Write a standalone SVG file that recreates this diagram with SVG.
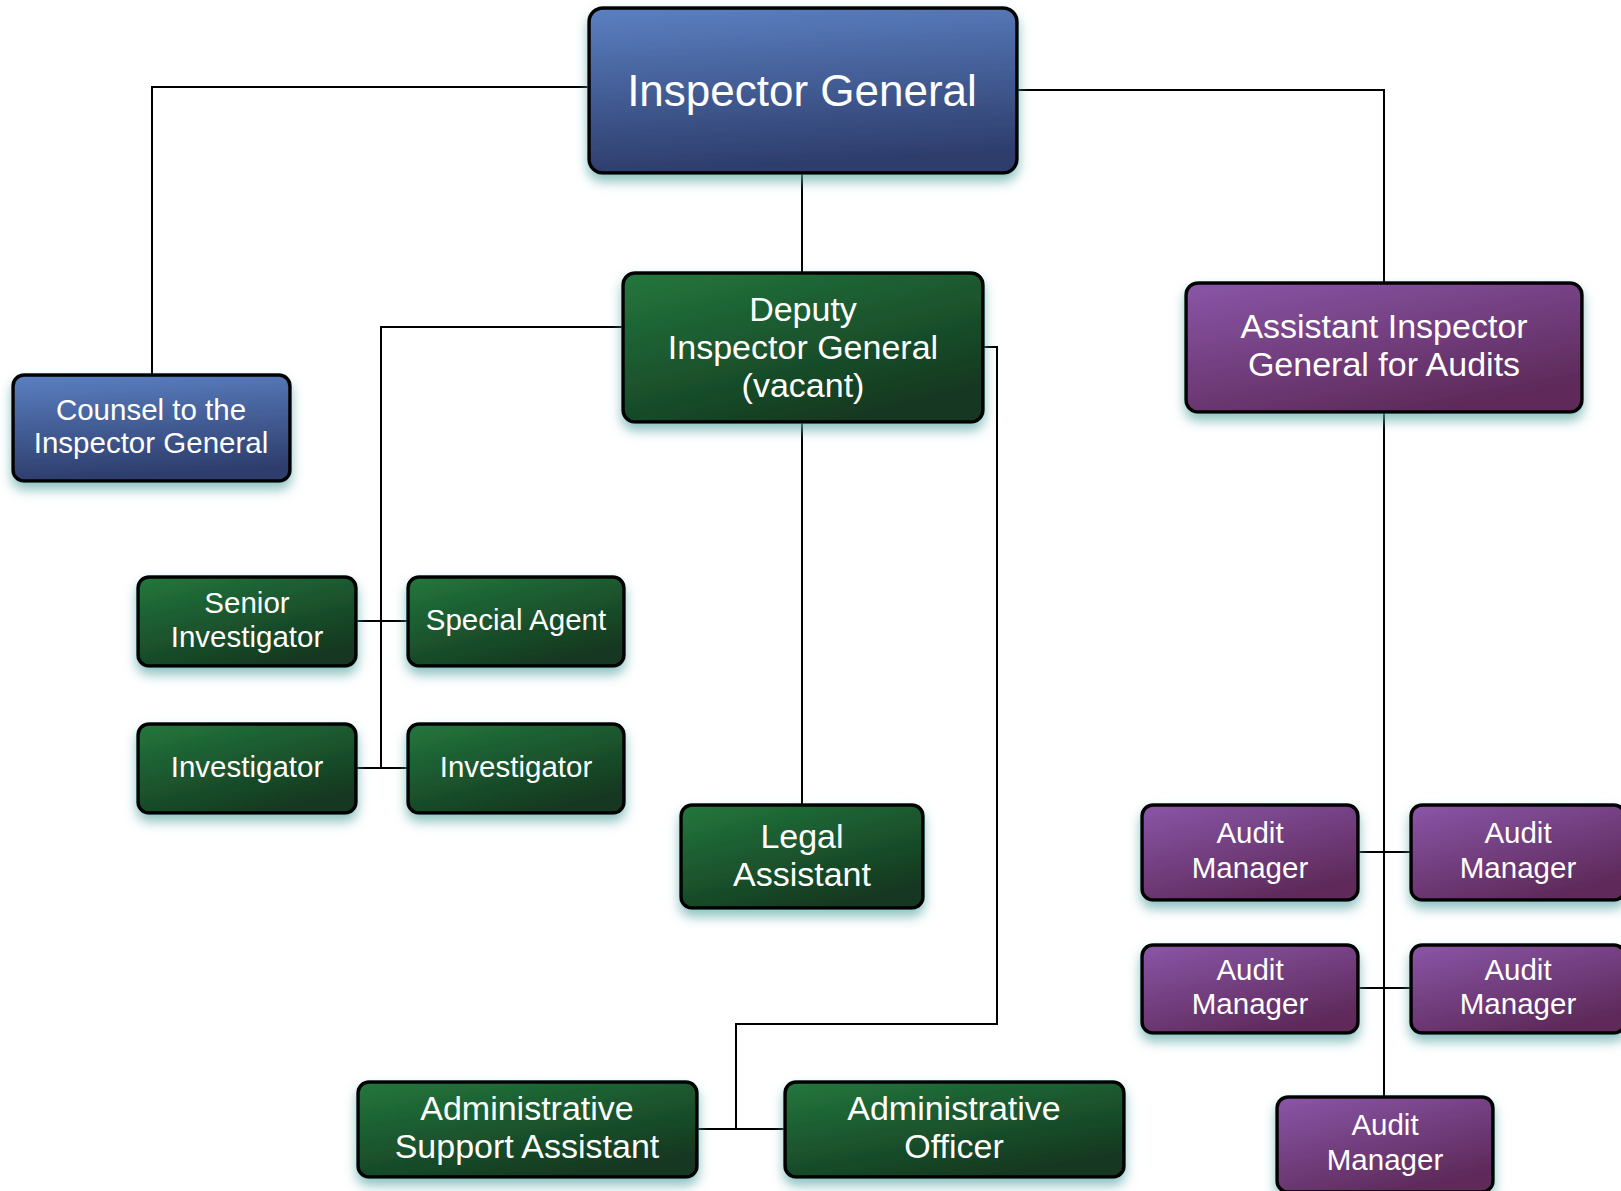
<svg xmlns="http://www.w3.org/2000/svg" width="1621" height="1191" viewBox="0 0 1621 1191">
<defs>
<linearGradient id="gBlue" x1="0" y1="0" x2="0.15" y2="1"><stop offset="0" stop-color="#5b80c2"/><stop offset="1" stop-color="#2d3d6c"/></linearGradient>
<linearGradient id="gGreen" x1="0" y1="0" x2="0.6" y2="1"><stop offset="0" stop-color="#23773d"/><stop offset="1" stop-color="#143820"/></linearGradient>
<linearGradient id="gPurple" x1="0" y1="0" x2="0.6" y2="1"><stop offset="0" stop-color="#8a56a8"/><stop offset="1" stop-color="#5e2a5a"/></linearGradient>
<filter id="sh" x="-20%" y="-20%" width="140%" height="160%"><feDropShadow dx="0" dy="7" stdDeviation="6" flood-color="#5fa8a8" flood-opacity="0.7"/></filter>
</defs>
<style>
.box{stroke:#000;stroke-width:3.5;filter:url(#sh)}
.b{fill:url(#gBlue)}.g{fill:url(#gGreen)}.p{fill:url(#gPurple)}
text{fill:#fff;font-family:"Liberation Sans",Arial,sans-serif;text-anchor:middle}
.conn{fill:none;stroke:#000;stroke-width:2}
</style>
<rect width="1621" height="1191" fill="#fff"/>
<g id="connectors">
<path class="conn" d="M589,87 H152 V375"/>
<path class="conn" d="M1017,90 H1384 V283"/>
<path class="conn" d="M802,173 V273"/>
<path class="conn" d="M623,327 H381 V768"/>
<path class="conn" d="M356,621 H408"/>
<path class="conn" d="M356,768 H408"/>
<path class="conn" d="M983,347 H997 V1024 H736 V1129"/>
<path class="conn" d="M697,1129 H785"/>
<path class="conn" d="M802,422 V805"/>
<path class="conn" d="M1384,412 V1097"/>
<path class="conn" d="M1358,852 H1411"/>
<path class="conn" d="M1358,988 H1411"/>
</g>
<g id="inspector-general"><rect class="box b" x="589" y="8" width="428" height="165" rx="14"/><text x="802" y="106" font-size="44">Inspector General</text></g>
<g id="counsel"><rect class="box b" x="13" y="375" width="277" height="106" rx="11"/><text x="151" y="420" font-size="29.5">Counsel to the</text><text x="151" y="453" font-size="29.5">Inspector General</text></g>
<g id="deputy"><rect class="box g" x="623" y="273" width="360" height="149" rx="12"/><text x="803" y="321" font-size="34">Deputy</text><text x="803" y="359" font-size="34">Inspector General</text><text x="803" y="397" font-size="34">(vacant)</text></g>
<g id="aiga"><rect class="box p" x="1186" y="283" width="396" height="129" rx="12"/><text x="1384" y="338" font-size="34">Assistant Inspector</text><text x="1384" y="376" font-size="34">General for Audits</text></g>
<g id="senior-investigator"><rect class="box g" x="138" y="577" width="218" height="89" rx="11"/><text x="247" y="613" font-size="29.5">Senior</text><text x="247" y="647" font-size="29.5">Investigator</text></g>
<g id="special-agent"><rect class="box g" x="408" y="577" width="216" height="89" rx="11"/><text x="516" y="630" font-size="29.5">Special Agent</text></g>
<g id="investigator-1"><rect class="box g" x="138" y="724" width="218" height="89" rx="11"/><text x="247" y="777" font-size="29.5">Investigator</text></g>
<g id="investigator-2"><rect class="box g" x="408" y="724" width="216" height="89" rx="11"/><text x="516" y="777" font-size="29.5">Investigator</text></g>
<g id="legal-assistant"><rect class="box g" x="681" y="805" width="242" height="103" rx="11"/><text x="802" y="848" font-size="34">Legal</text><text x="802" y="886" font-size="34">Assistant</text></g>
<g id="admin-support-assistant"><rect class="box g" x="358" y="1082" width="339" height="95" rx="11"/><text x="527" y="1120" font-size="34">Administrative</text><text x="527" y="1158" font-size="34">Support Assistant</text></g>
<g id="admin-officer"><rect class="box g" x="785" y="1082" width="339" height="95" rx="11"/><text x="954" y="1120" font-size="34">Administrative</text><text x="954" y="1158" font-size="34">Officer</text></g>
<g id="audit-manager-1"><rect class="box p" x="1142" y="805" width="216" height="95" rx="11"/><text x="1250" y="843" font-size="29.5">Audit</text><text x="1250" y="878" font-size="29.5">Manager</text></g>
<g id="audit-manager-2"><rect class="box p" x="1411" y="805" width="214" height="95" rx="11"/><text x="1518" y="843" font-size="29.5">Audit</text><text x="1518" y="878" font-size="29.5">Manager</text></g>
<g id="audit-manager-3"><rect class="box p" x="1142" y="945" width="216" height="88" rx="11"/><text x="1250" y="980" font-size="29.5">Audit</text><text x="1250" y="1014" font-size="29.5">Manager</text></g>
<g id="audit-manager-4"><rect class="box p" x="1411" y="945" width="214" height="88" rx="11"/><text x="1518" y="980" font-size="29.5">Audit</text><text x="1518" y="1014" font-size="29.5">Manager</text></g>
<g id="audit-manager-5"><rect class="box p" x="1277" y="1097" width="216" height="95" rx="11"/><text x="1385" y="1135" font-size="29.5">Audit</text><text x="1385" y="1170" font-size="29.5">Manager</text></g>
</svg>
